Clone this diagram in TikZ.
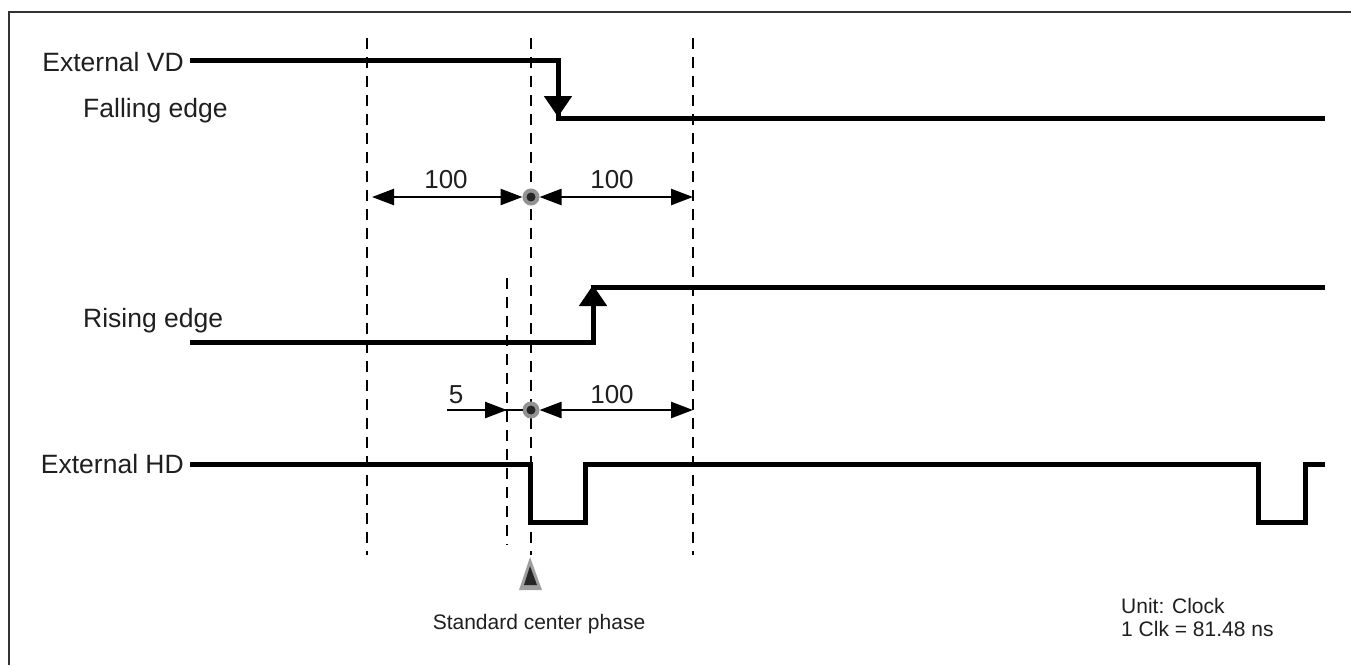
\documentclass[tikz,border=0pt]{standalone}
\usepackage{fontspec}
\setmainfont{Liberation Sans}
\usetikzlibrary{arrows.meta}

\tikzset{
  signal/.style={line width=5pt, line join=miter},
  guide/.style={line width=2.6pt, dash pattern=on 11pt off 8pt},
  dimline/.style={line width=2.5pt, {Triangle[length=22pt,width=16pt]}-{Triangle[length=22pt,width=16pt]}},
  dimhalf/.style={line width=2.5pt, -{Triangle[length=22pt,width=16pt]}},
  edgetip/.style={line width=5pt, -{Triangle[length=21pt,width=27pt]}},
  biglabel/.style={inner sep=0pt, text=black!88, font=\fontsize{26.5}{30}\selectfont},
  numlabel/.style={inner sep=0pt, text=black!88, font=\fontsize{26}{29}\selectfont},
  smalllabel/.style={inner sep=0pt, text=black!88, font=\fontsize{21}{23}\selectfont},
  centerdot/.style={circle, draw=gray!85, line width=4pt, fill=black!85, minimum size=13pt, inner sep=0pt},
}

\begin{document}
\begin{tikzpicture}[x=1pt, y=-1pt]
  \useasboundingbox (0,0) rectangle (1351,665);
  % frame
  \draw[line width=1.3pt, black!80] (9,665) -- (9,12) -- (1351,12);

  % labels
  \node[biglabel, anchor=base east] (vd) at (184,71) {External VD};
  \node[biglabel, anchor=base west] (fall) at (83,117) {Falling edge};
  \node[biglabel, anchor=base west] (rise) at (83,327) {Rising edge};
  \node[biglabel, anchor=base east] (hd) at (184,473) {External HD};

  % dashed guides
  \coordinate (g1t) at (367,38);  \coordinate (g1b) at (367,555);
  \coordinate (g2t) at (531,38);  \coordinate (g2b) at (531,555);
  \coordinate (g3t) at (693,38);  \coordinate (g3b) at (693,555);
  \coordinate (g4t) at (507,278); \coordinate (g4b) at (507,545);
  \draw[guide] (g1t) -- (g1b);
  \draw[guide] (g2t) -- (g2b);
  \draw[guide] (g3t) -- (g3b);
  \draw[guide] (g4t) -- (g4b);

  % External VD, falling edge
  \draw[signal] (190,60) -- (558,60) -- (558,118) -- (1325,118);
  \draw[edgetip] (558,80) -- (558,117);

  % rising edge
  \draw[signal] (190,342) -- (593,342) -- (593,287) -- (1325,287);
  \draw[edgetip] (593,322) -- (593,285);

  % External HD
  \draw[signal] (190,464) -- (530,464) -- (530,522) -- (585,522) -- (585,464)
    -- (1258,464) -- (1258,522) -- (1305,522) -- (1305,464) -- (1325,464);

  % upper dimensions
  \node[centerdot] (c1) at (531,197) {};
  \coordinate (d1) at (372,197);
  \coordinate (d2) at (693,197);
  \draw[dimline] (d1) -- (c1);
  \draw[dimline] (c1) -- (d2);
  \node[numlabel, anchor=base] (n1) at (446,188) {100};
  \node[numlabel, anchor=base] (n2) at (612,188) {100};

  % lower dimensions
  \node[centerdot] (c2) at (531,410) {};
  \coordinate (s5) at (447,410);
  \coordinate (t5) at (507,410);
  \coordinate (d3) at (693,410);
  \draw[line width=2.5pt] (s5) -- (c2);
  \draw[dimhalf] (s5) -- (t5);
  \draw[dimline] (c2) -- (d3);
  \node[numlabel, anchor=base] (n5) at (456,403) {5};
  \node[numlabel, anchor=base] (n3) at (612,403) {100};

  % standard center phase marker
  \fill[gray!75] (519,590) -- (530,557) -- (542,590) -- cycle;
  \fill[black!85] (524,585) -- (530,566) -- (537,585) -- cycle;
  \node[smalllabel, anchor=base] (std) at (539,629) {Standard center phase};

  % unit note
  \node[smalllabel, anchor=base west] (unit) at (1121,613) {Unit: Clock};
  \node[smalllabel, anchor=base west] (clk) at (1121,636) {1 Clk = 81.48 ns};
\end{tikzpicture}
\end{document}
